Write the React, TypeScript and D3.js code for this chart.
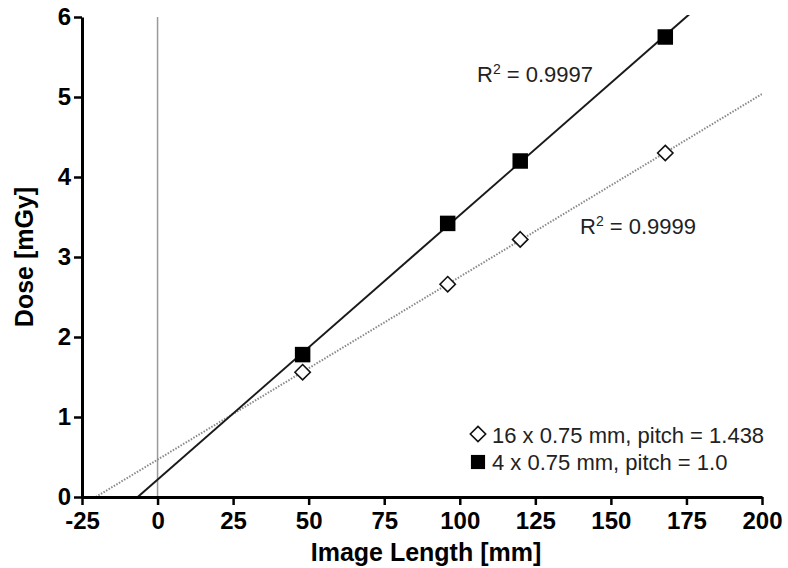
import React, { useEffect, useRef } from 'react';
import * as d3 from 'd3';

const imageLengths = [48, 96, 120, 168];
const dosePitch1438 = [1.56, 2.66, 3.22, 4.3];
const dosePitch10 = [1.78, 3.42, 4.2, 5.75];
const xTicks = [-25, 0, 25, 50, 75, 100, 125, 150, 175, 200];
const yTicks = [0, 1, 2, 3, 4, 5, 6];
const legendLabels = ['16 x 0.75 mm, pitch = 1.438', '4 x 0.75 mm, pitch = 1.0'];
const r2Labels = ['0.9997', '0.9999'];

const FONT = '"Liberation Sans", Arial, Helvetica, sans-serif';

function fit(xs: number[], ys: number[]) {
    const mx = d3.mean(xs)!;
    const my = d3.mean(ys)!;
    let sxy = 0, sxx = 0;
    xs.forEach((x, i) => {
        sxy += (x - mx) * (ys[i] - my);
        sxx += (x - mx) * (x - mx);
    });
    const slope = sxy / sxx;
    return { slope, intercept: my - slope * mx };
}

export default function App() {
    const ref = useRef<SVGSVGElement>(null);

    useEffect(() => {
        const svg = d3.select(ref.current);
        svg.selectAll('*').remove();

        const left = 82, right = 762, top = 17, bottom = 497;
        const x = d3.scaleLinear().domain([-25, 200]).range([left, right]);
        const y = d3.scaleLinear().domain([0, 6]).range([bottom, top]);

        svg.append('defs').append('clipPath').attr('id', 'plot')
            .append('rect')
            .attr('x', left).attr('y', top - 2)
            .attr('width', right - left).attr('height', bottom - top + 2);

        // vertical reference line at x = 0
        svg.append('line')
            .attr('x1', x(0)).attr('x2', x(0))
            .attr('y1', y(6)).attr('y2', y(0))
            .attr('stroke', '#999').attr('stroke-width', 1.5);

        const g = svg.append('g').attr('clip-path', 'url(#plot)');
        const line = d3.line<number>().x((d) => x(d[0])).y((d) => y(d[1]));

        const fDiamond = fit(imageLengths, dosePitch1438);
        const fSquare = fit(imageLengths, dosePitch10);

        const seg = (f: { slope: number; intercept: number }) => {
            const x0 = -f.intercept / f.slope;
            return [[x0, 0], [200, f.intercept + f.slope * 200]];
        };

        g.append('path')
            .attr('d', line(seg(fDiamond) as any))
            .attr('fill', 'none')
            .attr('stroke', '#8a8a8a')
            .attr('stroke-width', 2)
            .attr('stroke-dasharray', '1.5,1.5');

        g.append('path')
            .attr('d', line(seg(fSquare) as any))
            .attr('fill', 'none')
            .attr('stroke', '#1a1a1a')
            .attr('stroke-width', 2);

        // markers
        const diamond = d3.symbol().type(d3.symbolDiamond2).size(150);
        const square = d3.symbol().type(d3.symbolSquare).size(240);

        svg.append('g').selectAll('path')
            .data(imageLengths)
            .enter()
            .append('path')
            .attr('d', diamond)
            .attr('transform', (d, i) => `translate(${x(d)}, ${y(dosePitch1438[i])})`)
            .attr('fill', '#fff')
            .attr('stroke', '#111')
            .attr('stroke-width', 1.6);

        svg.append('g').selectAll('path')
            .data(imageLengths)
            .enter()
            .append('path')
            .attr('d', square)
            .attr('transform', (d, i) => `translate(${x(d)}, ${y(dosePitch10[i])})`)
            .attr('fill', '#000');

        // axes
        const fmt = (d: any) => String(d);
        const xAxis = svg.append('g')
            .attr('transform', `translate(0, ${bottom})`)
            .call(d3.axisBottom(x).tickValues(xTicks).tickSize(8).tickSizeOuter(0).tickFormat(fmt));
        const yAxis = svg.append('g')
            .attr('transform', `translate(${left}, 0)`)
            .call(d3.axisLeft(y).tickValues(yTicks).tickSize(8).tickSizeOuter(0).tickFormat(fmt));

        [xAxis, yAxis].forEach((a) => {
            a.select('.domain').attr('stroke', '#000').attr('stroke-width', 3);
            a.selectAll('.tick line').attr('stroke', '#000').attr('stroke-width', 2.5);
            a.selectAll('.tick text')
                .attr('fill', '#000')
                .style('font-family', FONT)
                .style('font-weight', 'bold')
                .style('font-size', '24px');
        });
        xAxis.selectAll('.tick text').attr('dy', '0.88em');
        yAxis.selectAll('.tick text').attr('x', -11);

        // axis titles
        svg.append('text')
            .attr('x', (left + right) / 2 + 4)
            .attr('y', 561)
            .attr('text-anchor', 'middle')
            .style('font-family', FONT)
            .style('font-weight', 'bold')
            .style('font-size', '25px')
            .text('Image Length [mm]');

        svg.append('text')
            .attr('transform', `translate(33, ${(top + bottom) / 2}) rotate(-90)`)
            .attr('text-anchor', 'middle')
            .style('font-family', FONT)
            .style('font-weight', 'bold')
            .style('font-size', '25px')
            .text('Dose [mGy]');

        // R² annotations
        const r2Pos = [[477, 82], [580, 234]];
        r2Labels.forEach((v, i) => {
            const t = svg.append('text')
                .attr('x', r2Pos[i][0]).attr('y', r2Pos[i][1])
                .style('font-family', FONT)
                .style('font-size', '22px')
                .attr('fill', '#222');
            t.append('tspan').text('R');
            t.append('tspan').attr('dy', -8).style('font-size', '14px').text('2');
            t.append('tspan').attr('dy', 8).text(` = ${v}`);
        });

        // legend
        const lg = svg.append('g').attr('transform', 'translate(478, 434)');
        lg.append('path').attr('d', diamond).attr('fill', '#fff').attr('stroke', '#111').attr('stroke-width', 1.6);
        lg.append('path').attr('d', d3.symbol().type(d3.symbolSquare).size(200)).attr('transform', 'translate(0, 28)').attr('fill', '#000');
        legendLabels.forEach((l, i) => {
            lg.append('text')
                .attr('x', 14).attr('y', 9 + i * 27)
                .style('font-family', FONT)
                .style('font-size', '22px')
                .attr('fill', '#222')
                .text(l);
        });
    }, []);

    return <svg ref={ref} width={788} height={568} style={{ position: 'absolute', left: 0, top: 0, background: '#fff' }} />;
}
